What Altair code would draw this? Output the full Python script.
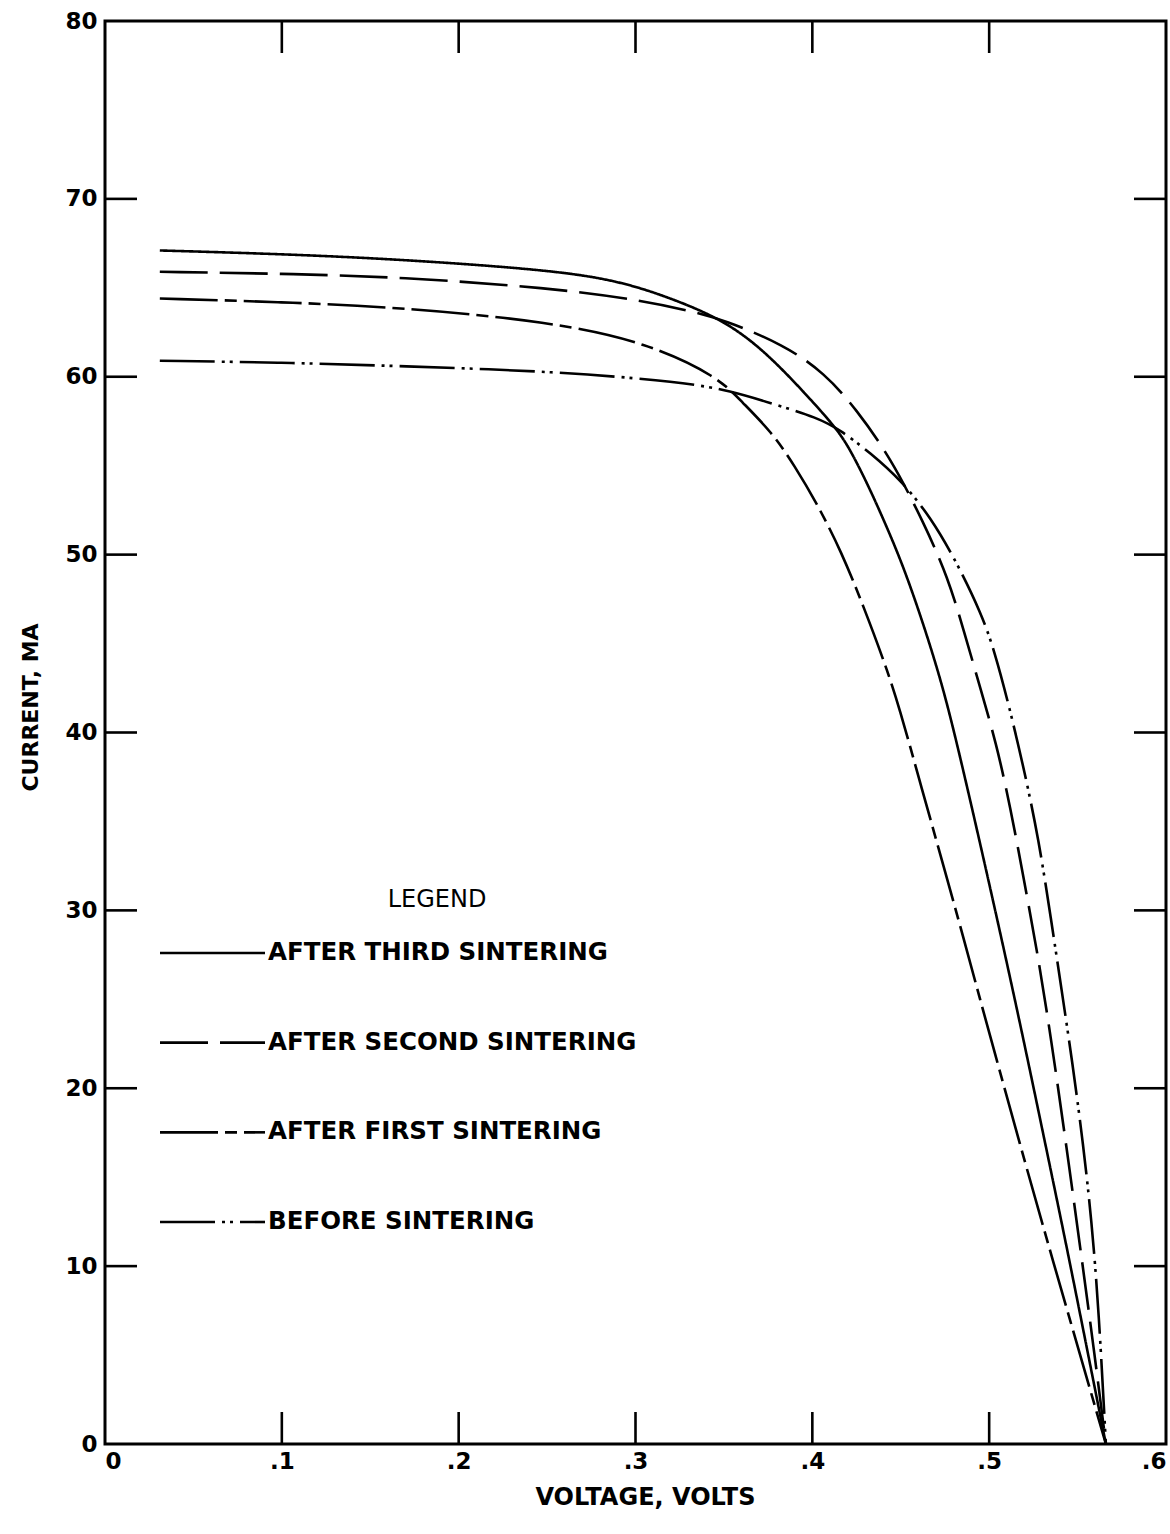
import altair as alt
import pandas as pd

# ---- series (voltage in volts, current in mA) ----
SERIES = [
    "AFTER THIRD SINTERING",
    "AFTER SECOND SINTERING",
    "AFTER FIRST SINTERING",
    "BEFORE SINTERING",
]

third_v = [0.031, 0.10, 0.167, 0.252, 0.29, 0.318, 0.350, 0.375, 0.403, 0.416, 0.4235,
           0.432, 0.4406, 0.450, 0.4598, 0.4711, 0.480, 0.4983, 0.5164, 0.5323, 0.5447,
           0.566]
third_i = [67.1, 66.9, 66.6, 66.0, 65.4, 64.5, 63.2, 61.3, 58.3, 56.8, 55.5,
           53.8, 51.9, 49.7, 47.0, 43.5, 40.2, 32.3, 24.2, 16.6, 10.7,
           0.0]

second_v = [0.031, 0.10, 0.167, 0.252, 0.303, 0.331, 0.350, 0.384, 0.407, 0.4247, 0.4445,
            0.463, 0.4768, 0.486, 0.495, 0.504, 0.512, 0.5195, 0.5277, 0.535, 0.5436,
            0.5521, 0.559, 0.566]
second_i = [65.9, 65.8, 65.6, 65.0, 64.3, 63.7, 63.2, 61.8, 60.2, 58.2, 55.4,
            51.8, 48.7, 45.6, 42.5, 39.4, 35.8, 31.8, 27.4, 22.8, 16.8,
            10.6, 5.5, 0.0]

first_v = [0.031, 0.10, 0.167, 0.252, 0.307, 0.3466, 0.36, 0.377, 0.39, 0.403, 0.4163,
           0.4293, 0.4406, 0.449, 0.462, 0.4745, 0.4859, 0.4943, 0.5023, 0.517, 0.5334,
           0.566]
first_i = [64.4, 64.2, 63.9, 63.1, 61.9, 60.0, 58.6, 56.9, 55.0, 52.8, 50.2,
           47.0, 44.0, 41.5, 36.8, 32.4, 28.3, 25.2, 22.3, 17.0, 11.2,
           0.0]

before_v = [0.031, 0.10, 0.167, 0.255, 0.327, 0.354, 0.377, 0.403, 0.416, 0.433, 0.450,
            0.467, 0.482, 0.4955, 0.503, 0.512, 0.520, 0.528, 0.535, 0.541, 0.547,
            0.553, 0.558, 0.562, 0.566]
before_i = [60.9, 60.8, 60.6, 60.3, 59.7, 59.2, 58.5, 57.7, 57.0, 55.7, 54.2,
            52.1, 49.5, 46.7, 44.6, 41.2, 37.8, 34.0, 29.5, 25.5, 21.5,
            17.0, 12.5, 7.5, 0.0]

x_ticks = [0.1, 0.2, 0.3, 0.4, 0.5]
y_ticks = [10, 20, 30, 40, 50, 60, 70]
x_labels = [0, 0.1, 0.2, 0.3, 0.4, 0.5, 0.6]
y_labels = [0, 10, 20, 30, 40, 50, 60, 70, 80]

# ---- tables ----
rows = []
for name, vs, cs in zip(SERIES,
                        [third_v, second_v, first_v, before_v],
                        [third_i, second_i, first_i, before_i]):
    for v, c in zip(vs, cs):
        rows.append({"series": name, "V": v, "I": c})
curves = pd.DataFrame(rows)
xt = pd.DataFrame({"V": x_ticks})
yt = pd.DataFrame({"I": y_ticks})
legend_df = pd.DataFrame({"series": SERIES})
legend_title = pd.DataFrame({"t": ["LEGEND"]})

# ---- styling ----
W, H = 1061, 1423
TICK = 32
FONT = "DejaVu Sans"
DASHES = [[1, 0], [48, 12], [58, 7, 12, 7], [55, 7, 3, 5, 3, 7]]

x_scale = alt.Scale(domain=[0, 0.6], nice=False, zero=False)
y_scale = alt.Scale(domain=[0, 80], nice=False)
dash_scale = alt.Scale(domain=SERIES, range=DASHES)

x_axis = alt.Axis(
    values=x_labels, title="VOLTAGE, VOLTS", grid=False, domain=False, ticks=False,
    labelExpr="datum.value == 0 ? '0' : replace(format(datum.value, '.1f'), '0.', '.')",
    labelFont=FONT, labelFontSize=23, labelFontWeight="bold", labelColor="black",
    labelPadding=6, titleFont=FONT, titleFontSize=24, titleFontWeight="bold",
    titleColor="black", titlePadding=12, titleX=540,
)
y_axis = alt.Axis(
    values=y_labels, title="CURRENT, MA", grid=False, domain=False, ticks=False,
    labelFont=FONT, labelFontSize=23, labelFontWeight="bold", labelColor="black",
    labelPadding=8, titleFont=FONT, titleFontSize=22, titleFontWeight="bold",
    titleColor="black", titlePadding=22, titleY=686,
)
x_enc = alt.X("V:Q", scale=x_scale, axis=x_axis)

lines = alt.Chart(curves).mark_line(
    color="black", strokeWidth=2.6, interpolate="basis"
).encode(
    x=x_enc,
    y=alt.Y("I:Q", scale=y_scale, axis=y_axis),
    strokeDash=alt.StrokeDash("series:N", scale=dash_scale, legend=None),
    detail="series:N",
)

# inward tick marks on all four sides of the frame
tick_style = dict(color="black", strokeWidth=2.6)
top_ticks = alt.Chart(xt).mark_rule(**tick_style).encode(
    x=x_enc, y=alt.value(0), y2=alt.value(TICK))
bottom_ticks = alt.Chart(xt).mark_rule(**tick_style).encode(
    x=x_enc, y=alt.value(H - TICK), y2=alt.value(H))
left_ticks = alt.Chart(yt).mark_rule(**tick_style).encode(
    y=alt.Y("I:Q", scale=y_scale, axis=None), x=alt.value(0), x2=alt.value(TICK))
right_ticks = alt.Chart(yt).mark_rule(**tick_style).encode(
    y=alt.Y("I:Q", scale=y_scale, axis=None), x=alt.value(W - TICK), x2=alt.value(W))

# legend drawn inside the plot
leg_y = alt.Y("series:N", axis=None,
              scale=alt.Scale(type="point", domain=SERIES, range=[932, 1201], padding=0))
leg_lines = alt.Chart(legend_df).mark_rule(color="black", strokeWidth=2.6).encode(
    y=leg_y, x=alt.value(55), x2=alt.value(160),
    strokeDash=alt.StrokeDash("series:N", scale=dash_scale, legend=None),
)
leg_text = alt.Chart(legend_df).mark_text(
    align="left", baseline="middle", font=FONT, fontSize=24.5, fontWeight="bold", color="black"
).encode(y=leg_y, x=alt.value(163), text="series:N")
leg_head = alt.Chart(legend_title).mark_text(
    align="center", baseline="middle", font=FONT, fontSize=24, color="black"
).encode(x=alt.value(332), y=alt.value(879), text="t:N")

chart = alt.layer(
    lines, top_ticks, bottom_ticks, left_ticks, right_ticks, leg_lines, leg_text, leg_head
).resolve_scale(y="independent").properties(
    width=W, height=H,
    autosize=alt.AutoSizeParams(type="none"),
    padding={"left": 105, "top": 21, "right": 4, "bottom": 90},
    background="white",
).configure_view(stroke="black", strokeWidth=3)

chart.save("out.html", embed_options={"renderer": "svg", "actions": False})
